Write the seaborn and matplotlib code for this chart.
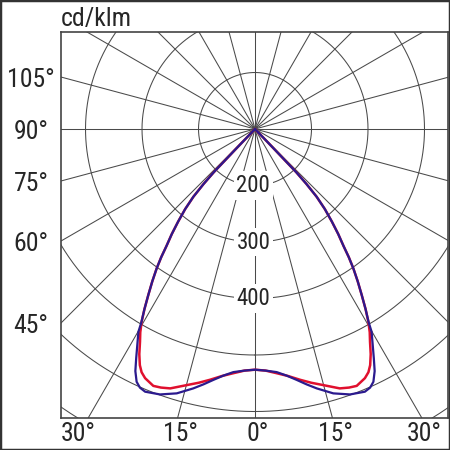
import numpy as np
import seaborn as sns
import matplotlib.pyplot as plt
import matplotlib.font_manager as fm
from matplotlib.patches import Rectangle

# luminous intensity (cd/klm), gamma in degrees from nadir
gamma_red = [0, 2.5, 5.1, 7.6, 10.2, 12.5, 14.9, 18.1, 20.0, 21.6, 23.8, 25.0, 26.0, 27.2, 28.4,
             29.45, 30.45, 31.55, 32.75, 34.0, 35.2, 36.2, 37.1, 38.4, 39.7, 41.1, 42.3, 43.1,
             43.65, 43.8, 44.0]
cd_red = [526, 528, 534, 541, 551, 560, 569, 583, 587, 589, 582, 575, 565, 548, 528,
          513, 496, 474, 449, 425, 402, 381, 360, 337, 313, 288, 262, 233,
          206, 149, 100]
gamma_blue = [0, 2.5, 5.1, 7.3, 9.4, 11.4, 13.4, 16.5, 19.7, 22.7, 24.0, 25.1, 26.3, 27.4, 29.9,
              30.45, 31.55, 32.75, 34.0, 35.2, 36.2, 37.1, 38.4, 39.7, 41.1, 42.3, 43.1,
              43.65, 43.8, 44.0]
cd_blue = [526, 528, 532, 540, 550, 561, 572, 588, 599, 604, 601, 594, 578, 557, 514,
           497, 474, 449, 425, 402, 381, 360, 337, 313, 288, 262, 233,
           206, 149, 100]

ring_values = [200, 300, 400, 500, 600, 700, 800]
ring_labels = ["200", "300", "400"]
spoke_angles = list(range(0, 360, 15))
side_labels = ["105°", "90°", "75°", "60°", "45°"]
bottom_labels = ["30°", "15°", "0°", "15°", "30°"]

CENTER = 100  # value at the pole
RED = "#e0102e"
BLUE = "#2b1a8e"
GRID = "#4a4a4a"


def to_xy(gamma, cd):
    g = np.radians(np.asarray(gamma, dtype=float))
    r = np.asarray(cd, dtype=float) - CENTER
    return r * np.sin(g), -r * np.cos(g)


def full_curve(gamma, cd):
    g = [-a for a in gamma[::-1]] + list(gamma[1:])
    c = list(cd[::-1]) + list(cd[1:])
    return to_xy(g, c)


sns.set_style("white")

# the labels use a narrow face; take one if the machine has it
names = {f.name for f in fm.fontManager.ttflist}
narrow = [n for n in ["Roboto Condensed", "Liberation Sans Narrow", "Arial Narrow",
                      "Noto Sans Condensed", "Open Sans Condensed", "DejaVu Sans Condensed"] if n in names]
narrow += sorted(n for n in names if ("Condensed" in n or "Narrow" in n)
                 and "Mono" not in n and "Serif" not in n)
stretch = "normal"
if not narrow:
    cond = [f for f in fm.fontManager.ttflist
            if str(f.stretch) in ("condensed", "semi-condensed", "extra-condensed")
            and f.style == "normal" and "Mono" not in f.name and "Serif" not in f.name]
    if cond:
        narrow = [cond[0].name]
        stretch = cond[0].stretch
if narrow:
    font = narrow[0]
    big, small, title = 18.5, 16.5, 18.5
else:
    font = "Roboto"
    big, small, title = 16, 14, 16
plt.rcParams["font.family"] = [font, "DejaVu Sans"]
plt.rcParams["font.stretch"] = stretch

fig = plt.figure(figsize=(4.5, 4.5), dpi=100)
ax = fig.add_axes([61 / 450, 32 / 450, 387 / 450, 386 / 450])
x0, x1 = -343.4, 341.6
y0, y1 = -511.5, 171.7

# rings and spokes
t = np.linspace(0, 360, 721)
for v in ring_values:
    x, y = to_xy(t, [v] * len(t))
    ax.plot(x, y, color=GRID, lw=0.75, zorder=1)
for a in spoke_angles:
    x, y = to_xy([a, a], [CENTER, 1000])
    ax.plot(x, y, color=GRID, lw=0.75, zorder=1)

# curves
bx, by = full_curve(gamma_blue, cd_blue)
rx, ry = full_curve(gamma_red, cd_red)
sns.lineplot(x=rx, y=ry, sort=False, estimator=None, color=RED, lw=1.8, ax=ax, zorder=3)
sns.lineplot(x=bx, y=by, sort=False, estimator=None, color=BLUE, lw=1.6, ax=ax, zorder=4)

# ring labels on the nadir axis
for lab in ring_labels:
    _, y = to_xy([0], [float(lab)])
    ax.text(-3, y[0], lab, ha="center", va="center", fontsize=small, zorder=5,
            bbox=dict(facecolor="white", edgecolor="none", pad=2))

ax.set_xlim(x0, x1)
ax.set_ylim(y0, y1)
ax.set_xticks([])
ax.set_yticks([])
for s in ax.spines.values():
    s.set_color("#444444")
    s.set_linewidth(1.2)

# angle labels outside the box
for lab in side_labels:
    a = np.radians(float(lab[:-1]))
    y = x0 * np.cos(a) / np.sin(a)
    ax.text(x0 - 53, y - 6, lab, ha="center", va="center", fontsize=big, clip_on=False)
for i, lab in enumerate(bottom_labels):
    a = np.radians(float(lab[:-1])) * (-1 if i < 2 else 1)
    x = -y0 * np.tan(a)
    if i == 0:
        ax.text(x0, y0 - 7, lab, ha="left", va="top", fontsize=big, clip_on=False)
    else:
        ax.text(x + 5, y0 - 7, lab, ha="center", va="top", fontsize=big, clip_on=False)

fig.text(61 / 450, 1 - 26 / 450, "cd/klm", ha="left", va="baseline", fontsize=title)
fig.patches.append(Rectangle((0, 0), 1, 1, transform=fig.transFigure, fill=False,
                             edgecolor="#333333", linewidth=2.5))

fig.savefig("out.png", dpi=100, facecolor="white")
